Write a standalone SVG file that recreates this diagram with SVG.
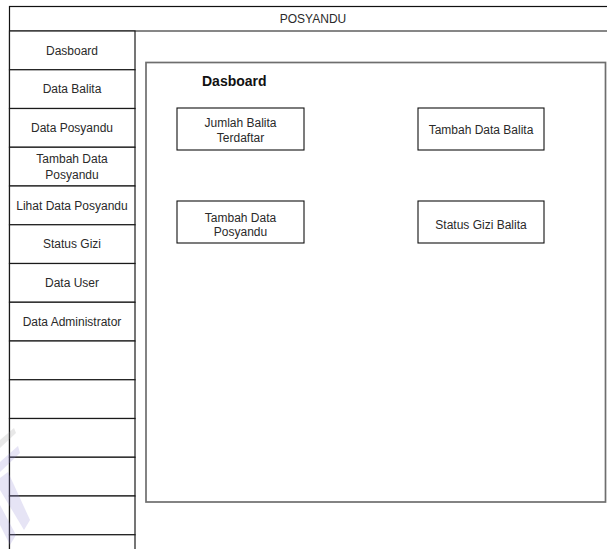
<svg xmlns="http://www.w3.org/2000/svg" width="607" height="549" viewBox="0 0 607 549">
  <style>
    .frame { fill: #ffffff; stroke: #111111; stroke-width: 1.2; }
    .cell { fill: #ffffff; stroke: #1a1a1a; stroke-width: 1.2; }
    .panel { fill: #ffffff; stroke: #6e6e6e; stroke-width: 1.7; }
    .card { fill: #ffffff; stroke: #111111; stroke-width: 1.1; }
    text { font-family: "Liberation Sans", Arial, sans-serif; font-size: 12px; fill: #2a2a2a; text-anchor: middle; }
    .heading { font-size: 14px; font-weight: bold; text-anchor: start; fill: #111111; }
    .mark { stroke: none; }
  </style>

  <!-- outer window frame (continues past the right and bottom edges) -->
  <g id="window">
    <rect class="frame" x="9.5" y="6.5" width="610" height="560"/>
    <line x1="9.5" y1="31" x2="620" y2="31" stroke="#111111" stroke-width="1.2"/>
    <text x="313" y="23">POSYANDU</text>
  </g>

  <!-- sidebar menu -->
  <g id="menu-dasboard">
    <rect class="cell" x="9.5" y="31" width="125.5" height="38.75"/>
    <text x="72" y="54.5">Dasboard</text>
  </g>
  <g id="menu-data-balita">
    <rect class="cell" x="9.5" y="69.75" width="125.5" height="38.75"/>
    <text x="72" y="93.2">Data Balita</text>
  </g>
  <g id="menu-data-posyandu">
    <rect class="cell" x="9.5" y="108.5" width="125.5" height="38.75"/>
    <text x="72" y="132">Data Posyandu</text>
  </g>
  <g id="menu-tambah-data-posyandu">
    <rect class="cell" x="9.5" y="147.25" width="125.5" height="38.75"/>
    <text x="72" y="163">Tambah Data</text>
    <text x="72" y="178.5">Posyandu</text>
  </g>
  <g id="menu-lihat-data-posyandu">
    <rect class="cell" x="9.5" y="186" width="125.5" height="38.75"/>
    <text x="72" y="209.5">Lihat Data Posyandu</text>
  </g>
  <g id="menu-status-gizi">
    <rect class="cell" x="9.5" y="224.75" width="125.5" height="38.75"/>
    <text x="72" y="248.2">Status Gizi</text>
  </g>
  <g id="menu-data-user">
    <rect class="cell" x="9.5" y="263.5" width="125.5" height="38.75"/>
    <text x="72" y="287">Data User</text>
  </g>
  <g id="menu-data-administrator">
    <rect class="cell" x="9.5" y="302.25" width="125.5" height="38.75"/>
    <text x="72" y="325.7">Data Administrator</text>
  </g>
  <g id="menu-empty-1"><rect class="cell" x="9.5" y="341" width="125.5" height="38.75"/></g>
  <g id="menu-empty-2"><rect class="cell" x="9.5" y="379.75" width="125.5" height="38.75"/></g>
  <g id="menu-empty-3"><rect class="cell" x="9.5" y="418.5" width="125.5" height="38.75"/></g>
  <g id="menu-empty-4"><rect class="cell" x="9.5" y="457.25" width="125.5" height="38.75"/></g>
  <g id="menu-empty-5"><rect class="cell" x="9.5" y="496" width="125.5" height="38.75"/></g>
  <g id="menu-empty-6"><rect class="cell" x="9.5" y="534.75" width="125.5" height="38.75"/></g>

  <!-- dashboard panel -->
  <g id="dashboard-panel">
    <rect class="panel" x="146" y="62.5" width="459.5" height="439.5"/>
    <text class="heading" x="202" y="85.5">Dasboard</text>
  </g>

  <g id="card-jumlah-balita">
    <rect class="card" x="177" y="108" width="127" height="42"/>
    <text x="240.5" y="126.5">Jumlah Balita</text>
    <text x="240.5" y="141.5">Terdaftar</text>
  </g>
  <g id="card-tambah-data-balita">
    <rect class="card" x="418" y="108" width="126" height="42"/>
    <text x="481" y="133.5">Tambah Data Balita</text>
  </g>
  <g id="card-tambah-data-posyandu">
    <rect class="card" x="177" y="201" width="127" height="42"/>
    <text x="240.5" y="221.5">Tambah Data</text>
    <text x="240.5" y="236">Posyandu</text>
  </g>
  <g id="card-status-gizi-balita">
    <rect class="card" x="418" y="201" width="126" height="42"/>
    <text x="481" y="229">Status Gizi Balita</text>
  </g>

  <!-- no connectors in this layout -->
  <g id="connectors"/>

  <!-- faint logo mark in the lower left corner -->
  <g id="corner-mark" opacity="0.22">
    <polygon class="mark" fill="#9a9a9a" points="0,440 14,428 16,433 0,448"/>
    <polygon class="mark" fill="#8f86d6" points="0,462 18,446 20,453 0,472"/>
    <polygon class="mark" fill="#8f86d6" points="0,478 8,472 30,520 24,530 0,490"/>
    <polygon class="mark" fill="#8f86d6" points="0,505 16,535 10,545 0,525"/>
  </g>
</svg>
